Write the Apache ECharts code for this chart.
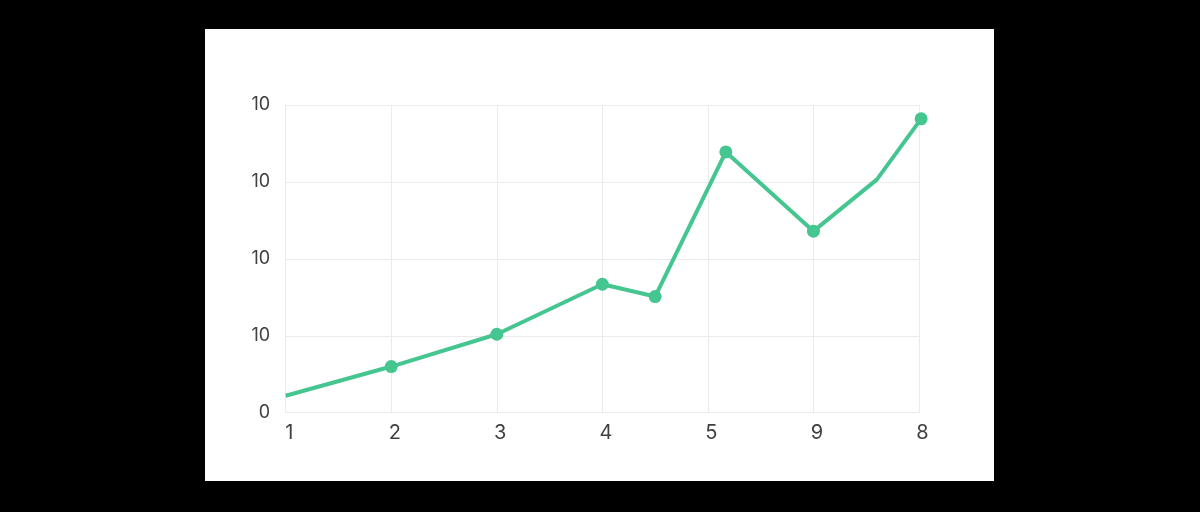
<!DOCTYPE html>
<html>
<head>
<meta charset="utf-8">
<script src="https://cdn.jsdelivr.net/npm/echarts@6/dist/echarts.min.js"></script>
<style>
html,body{margin:0;padding:0;background:#000;width:1200px;height:512px;overflow:hidden;}
#panel{position:absolute;left:205px;top:29px;width:789px;height:452px;background:#fff;}
</style>
</head>
<body>
<div id="panel"></div>
<script>
// Data
const xValues = [0, 1, 2, 3, 3.5, 4.17, 5, 5.6, 6.02];
const yValues = [2.2, 6.0, 10.2, 16.7, 15.1, 33.9, 23.6, 30.3, 38.2];
const showMarker = [false, true, true, true, true, true, true, false, true];
const xTickLabels = ['1', '2', '3', '4', '5', '9', '8'];
const yTickLabels = ['0', '10', '10', '10', '10'];

const chart = echarts.init(document.getElementById('panel'), null, {renderer: 'canvas'});
const data = xValues.map((x, i) => ({
  value: [x, yValues[i]],
  symbol: showMarker[i] ? 'circle' : 'none'
}));
chart.setOption({
  animation: false,
  backgroundColor: '#ffffff',
  grid: {left: 80.7, right: 75, top: 76, bottom: 68.3, containLabel: false},
  xAxis: {
    type: 'value', min: 0, max: 6, interval: 1,
    axisLine: {show: true, lineStyle: {color: '#ebebeb', width: 1}},
    axisTick: {show: false},
    splitLine: {show: true, lineStyle: {color: '#ebebeb', width: 1}},
    axisLabel: {
      color: '#404040', fontSize: 20, fontFamily: 'Inter, "Noto Sans", sans-serif',
      margin: 10.5, padding: [0, 0, 0, 7],
      formatter: (v) => xTickLabels[Math.round(v)] ?? ''
    }
  },
  yAxis: {
    type: 'value', min: 0, max: 40, interval: 10,
    axisLine: {show: true, lineStyle: {color: '#ebebeb', width: 1}},
    axisTick: {show: false},
    splitLine: {show: true, lineStyle: {color: '#ebebeb', width: 1}},
    axisLabel: {
      color: '#404040', fontSize: 18, fontFamily: 'Inter, "Noto Sans", sans-serif',
      margin: 15.5,
      formatter: (v) => yTickLabels[Math.round(v / 10)] ?? ''
    }
  },
  series: [{
    type: 'line',
    data: data,
    clip: false,
    symbolSize: 13,
    showSymbol: true,
    lineStyle: {color: '#45c690', width: 4},
    itemStyle: {color: '#45c690'}
  }]
});
</script>
</body>
</html>
